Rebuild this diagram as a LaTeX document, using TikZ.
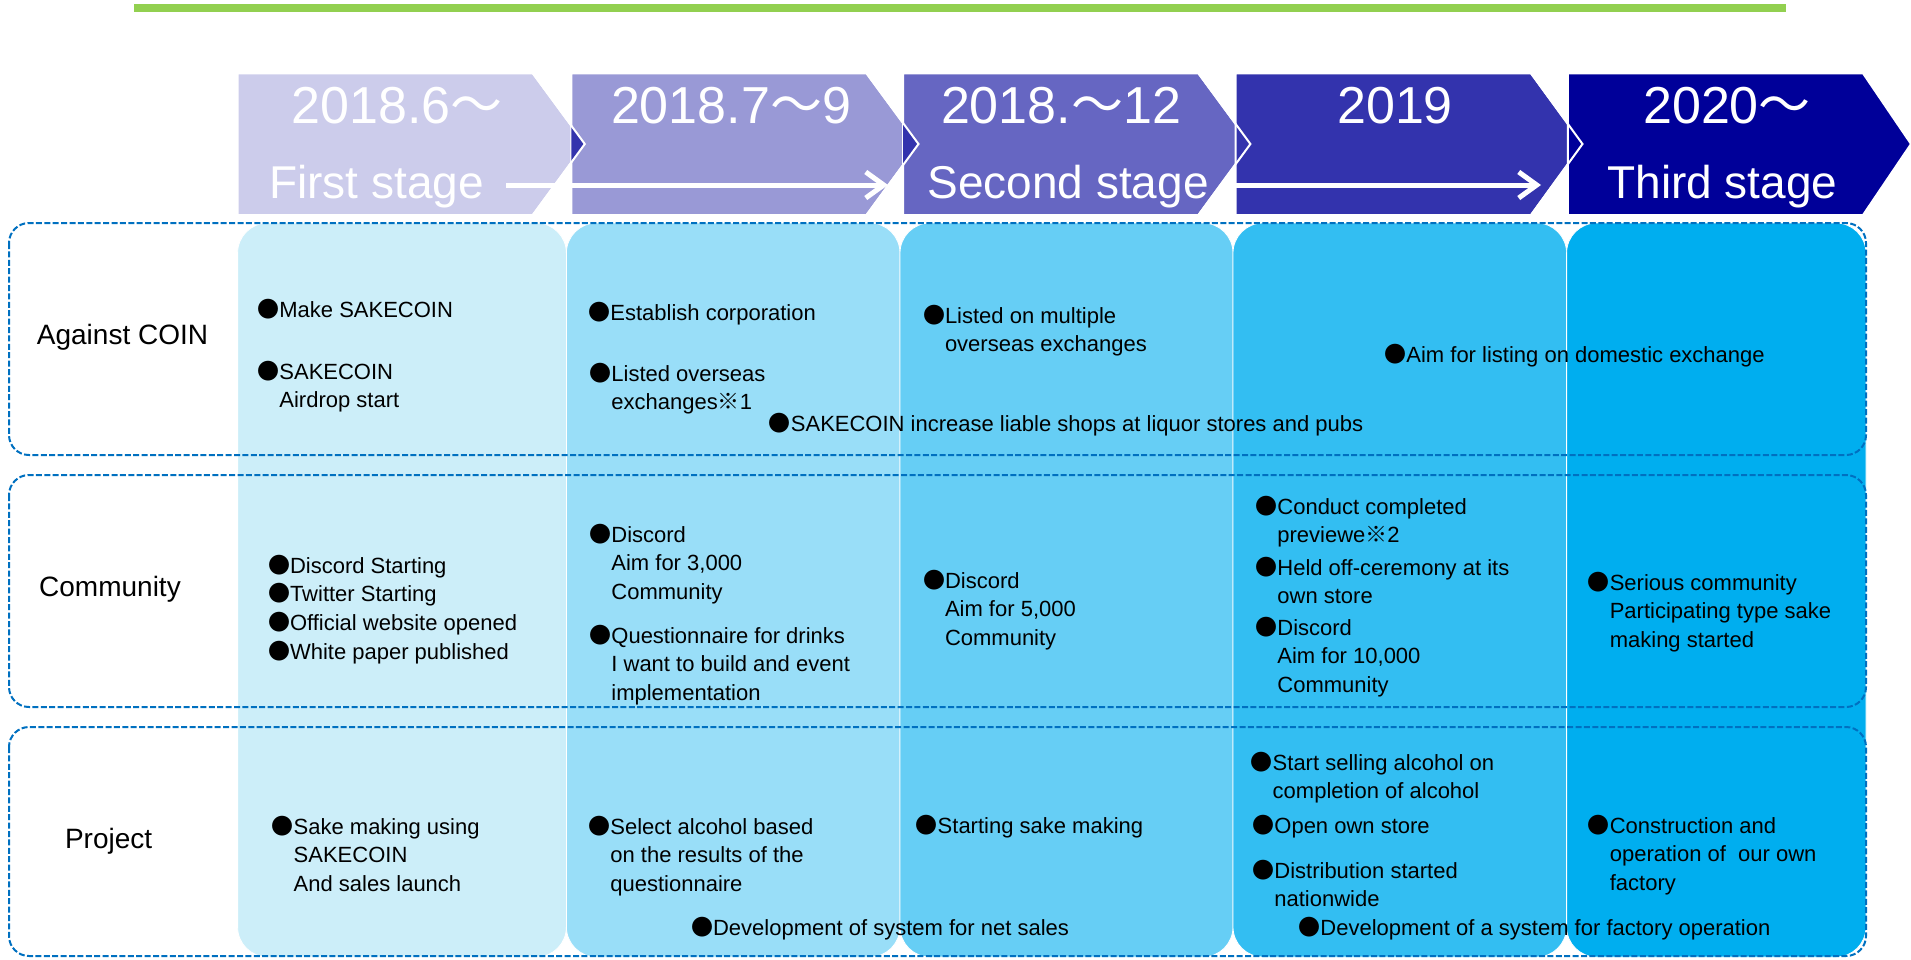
\documentclass[tikz,border=0pt]{standalone}
\usepackage{fontspec}
\setmainfont{Liberation Sans}
\newfontfamily\jpfont{Noto Sans CJK JP}
\usetikzlibrary{arrows.meta}
\definecolor{barGreen}{HTML}{92D050}
\definecolor{hdA}{HTML}{CCCCEB}
\definecolor{hdB}{HTML}{9999D6}
\definecolor{hdC}{HTML}{6666C2}
\definecolor{hdD}{HTML}{3333AD}
\definecolor{hdE}{HTML}{000099}
\definecolor{colA}{HTML}{CCEEF9}
\definecolor{colB}{HTML}{99DEF8}
\definecolor{colC}{HTML}{66CEF5}
\definecolor{colD}{HTML}{33BEF2}
\definecolor{colE}{HTML}{00AEEF}
\definecolor{laneBlue}{HTML}{0070C0}
\newcommand{\bul}{{\jpfont ●}}
\newcommand{\kome}{{\jpfont ※}}
\newcommand{\wave}{{\jpfont ～}}
\newcommand{\ilines}[1]{\begin{tabular}[t]{@{}l@{}}#1\end{tabular}}
\begin{document}
\begin{tikzpicture}[x=0.5pt,y=-0.5pt,
		col/.style={draw=white,line width=0.4pt,rounded corners=15pt},
		lane/.style={draw=laneBlue,line width=1pt,dash pattern=on 3pt off 1.2pt,rounded corners=10pt},
		chev/.style={draw=white,line width=1pt},
		hdtop/.style={text=white,anchor=base,inner sep=0pt,font=\fontsize{26}{30}\selectfont},
		hdbot/.style={text=white,anchor=base,inner sep=0pt,font=\fontsize{23}{28}\selectfont},
		rowlbl/.style={inner sep=0pt,font=\fontsize{14}{17}\selectfont},
		itm/.style={anchor=base west,inner sep=0pt,font=\fontsize{11}{14.4}\selectfont},
		stagearrow/.style={white,line width=2.5pt,-{Straight Barb[length=9pt,width=13pt]}}]
		\useasboundingbox (0,0) rectangle (1911,959);
		\fill[barGreen] (134,4) rectangle (1786,11.7);
		\filldraw[chev,fill=hdA] (237.6,73.3) -- (532.8,73.3) -- (584.8,144) -- (532.8,215) -- (237.6,215) -- cycle;
		\filldraw[chev,fill=hdB] (571.3,73.3) -- (866.5,73.3) -- (918.5,144) -- (866.5,215) -- (571.3,215) -- cycle;
		\filldraw[chev,fill=hdC] (903.2,73.3) -- (1198.4,73.3) -- (1250.4,144) -- (1198.4,215) -- (903.2,215) -- cycle;
		\filldraw[chev,fill=hdD] (1235.6,73.3) -- (1531,73.3) -- (1582.5,144) -- (1531,215) -- (1235.6,215) -- cycle;
		\filldraw[chev,fill=hdE] (1567.8,73.3) -- (1863,73.3) -- (1911,144) -- (1863,215) -- (1567.8,215) -- cycle;
		\fill[hdD] (571.3,125.6) -- (584.8,144) -- (571.3,162.4) -- cycle;
		\fill[hdD] (903.2,123.2) -- (918.5,144) -- (903.2,164.8) -- cycle;
		\draw[chev] (532.8,73.3) -- (584.8,144) -- (532.8,215);
		\draw[chev] (866.5,73.3) -- (918.5,144) -- (866.5,215);
		\draw[chev] (1198.4,73.3) -- (1250.4,144) -- (1198.4,215);
		\draw[chev] (1531,73.3) -- (1582.5,144) -- (1531,215);
		\node[hdtop] (yrA) at (397,123) {2018.6\wave};
		\node[hdtop] (yrB) at (731,123) {2018.7\wave 9};
		\node[hdtop] (yrC) at (1061,123) {2018.\wave 12};
		\node[hdtop] (yrD) at (1395,123) {2019};
		\node[hdtop] (yrE) at (1727,123) {2020\wave};
		\node[hdbot] (stA) at (376.5,198) {First stage};
		\node[hdbot] (stB) at (1068,198) {Second stage};
		\node[hdbot] (stC) at (1722.5,198) {Third stage};
		\coordinate (arAs) at (506,185);
		\coordinate (arAe) at (888,185);
		\coordinate (arBs) at (1236,185);
		\coordinate (arBe) at (1541,185);
		\draw[stagearrow] (arAs) -- (arAe);
		\draw[stagearrow] (arBs) -- (arBe);
		\filldraw[col,fill=colA] (237.6,223) rectangle (566.4,957);
		\filldraw[col,fill=colB] (566.4,223) rectangle (900,957);
		\filldraw[col,fill=colC] (900,223) rectangle (1233,957);
		\filldraw[col,fill=colD] (1233,223) rectangle (1566.6,957);
		\filldraw[col,fill=colE] (1566.6,223) rectangle (1866,957);
		\draw[lane] (9,223) rectangle (1866,455);
		\draw[lane] (9,475) rectangle (1866,707);
		\draw[lane] (9,727) rectangle (1866,956);
		\node[rowlbl] (rowCoin) at (122.5,337) {Against COIN};
		\node[rowlbl] (rowComm) at (110,589) {Community};
		\node[rowlbl] (rowProj) at (108.6,841) {Project};
		\node[itm] (coinA) at (257,317) {\bul Make SAKECOIN};
		\node[itm] (coinB) at (257,379) {\bul\ilines{SAKECOIN\\Airdrop start}};
		\node[itm] (coinC) at (588,320) {\bul Establish corporation};
		\node[itm] (coinD) at (589,381) {\bul\ilines{Listed overseas\\exchanges\kome 1}};
		\node[itm] (coinE) at (768.5,431) {\bul SAKECOIN increase liable shops at liquor stores and pubs};
		\node[itm] (coinF) at (922.6,323) {\bul\ilines{Listed on multiple\\overseas exchanges}};
		\node[itm] (coinG) at (1384,362) {\bul Aim for listing on domestic exchange};
		\node[itm] (commA) at (267.6,573) {\ilines{\bul Discord Starting\\\bul Twitter Starting\\\bul Official website opened\\\bul White paper published}};
		\node[itm] (commB) at (589,542) {\bul\ilines{Discord\\Aim for 3,000\\Community}};
		\node[itm] (commC) at (589,643) {\bul\ilines{Questionnaire for drinks\\I want to build and event\\implementation}};
		\node[itm] (commD) at (922.6,588) {\bul\ilines{Discord\\Aim for 5,000\\Community}};
		\node[itm] (commE) at (1255,514) {\bul\ilines{Conduct completed\\previewe\kome 2}};
		\node[itm] (commF) at (1255,575) {\bul\ilines{Held off-ceremony at its\\own store}};
		\node[itm] (commG) at (1255,635) {\bul\ilines{Discord\\Aim for 10,000\\Community}};
		\node[itm] (commH) at (1587.4,590) {\bul\ilines{Serious community\\Participating type sake\\making started}};
		\node[itm] (projA) at (271.3,834) {\bul\ilines{Sake making using\\SAKECOIN\\And sales launch}};
		\node[itm] (projB) at (588,834) {\bul\ilines{Select alcohol based\\on the results of the\\questionnaire}};
		\node[itm] (projC) at (690.7,935) {\bul Development of system for net sales};
		\node[itm] (projD) at (915.3,833) {\bul Starting sake making};
		\node[itm] (projE) at (1250.3,770) {\bul\ilines{Start selling alcohol on\\completion of alcohol}};
		\node[itm] (projF) at (1252,833) {\bul Open own store};
		\node[itm] (projG) at (1252,878) {\bul\ilines{Distribution started\\nationwide}};
		\node[itm] (projH) at (1298,935) {\bul Development of a system for factory operation};
		\node[itm] (projI) at (1587.4,833) {\bul\ilines{Construction and\\operation of~ our own\\factory}};
\end{tikzpicture}
\end{document}
